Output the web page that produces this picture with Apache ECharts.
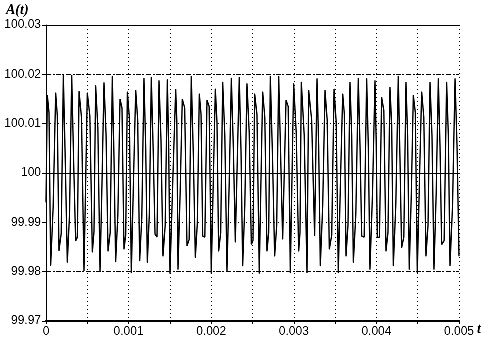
<!DOCTYPE html>
<html><head><meta charset="utf-8">
<script src="https://cdn.jsdelivr.net/npm/echarts@6/dist/echarts.min.js"></script>
<style>html,body{margin:0;padding:0;background:#fff}#c{width:485px;height:340px;filter:contrast(1.6)}</style>
</head><body><div id="c"></div>
<script>
// extremes (peaks / troughs) of the signal
const times = [0,0.0000161,0.0000565,0.000117,0.000157,0.000210,0.000258,0.000311,0.000359,0.000400,0.000460,0.000500,0.000561,0.000601,0.000654,0.000702,0.000751,0.000803,0.000843,0.000896,0.000944,0.000985,0.001033,0.001086,0.001134,0.001186,0.001227,0.001275,0.001320,0.001368,0.001416,0.001469,0.001501,0.001570,0.001598,0.001650,
0.001707,0.001759,0.001808,0.001856,0.001897,0.001949,0.002001,0.002050,0.002090,0.002139,0.002191,0.002244,0.002292,0.002340,0.002381,0.002433,0.002486,0.002526,0.002582,0.002623,0.002675,0.002716,0.002768,0.002817,0.002865,0.002906,0.002958,0.002998,0.003059,0.003091,0.003160,0.003180,0.003252,0.003281,0.003321,
0.003378,0.003430,0.003487,0.003539,0.003592,0.003632,0.003680,0.003721,0.003781,0.003822,0.003882,0.003922,0.003983,0.004011,0.004063,0.004116,0.004164,0.004205,0.004265,0.004305,0.004358,0.004398,0.004447,0.004495,0.004548,0.004600,0.004649,0.004697,0.004750,0.004790,0.004850,0.004891,0.004952,0.005];
const values = [99.9940,100.0158,99.9812,100.0163,99.9842,100.0199,99.9818,100.0199,99.9862,100.0166,99.9801,100.0163,99.9839,100.0178,99.9801,100.0184,99.9841,100.0197,99.9819,100.0150,99.9845,100.0165,99.9797,100.0168,99.9821,100.0193,99.9818,100.0195,99.9876,100.0188,99.9831,100.0190,99.9796,100.0170,99.9804,100.0150,
99.9852,100.0197,99.9828,100.0161,99.9872,100.0148,99.9796,100.0171,99.9841,100.0185,99.9801,100.0193,99.9859,100.0195,99.9811,100.0182,99.9855,100.0161,99.9796,100.0165,99.9841,100.0197,99.9831,100.0197,99.9865,100.0148,99.9797,100.0182,99.9841,100.0185,99.9797,100.0168,99.9872,100.0192,99.9811,
100.0168,99.9845,100.0171,99.9797,100.0161,99.9831,100.0185,99.9818,100.0193,99.9872,100.0192,99.9804,100.0188,99.9869,100.0154,99.9841,100.0175,99.9811,100.0197,99.9848,100.0185,99.9804,100.0158,99.9797,100.0165,99.9831,100.0185,99.9804,100.0192,99.9855,100.0185,99.9811,100.0192,99.9831];
// intermediate samples (shoulders) following each extreme
const shoulderTimes = [0.0000363,0.0000868,0.000137,0.000184,0.000234,0.000285,0.000335,0.000380,0.000430,0.000480,0.000531,0.000581,0.000628,0.000678,0.000727,0.000777,0.000823,0.000870,0.000920,0.000965,0.001009,0.001060,0.001110,0.001160,0.001207,0.001251,0.001298,0.001344,0.001392,0.001443,0.001485,0.001536,0.001584,0.001624,0.001679,
0.001733,0.001784,0.001832,0.001877,0.001923,0.001975,0.002026,0.002070,0.002115,0.002165,0.002218,0.002268,0.002316,0.002361,0.002407,0.002460,0.002506,0.002554,0.002603,0.002649,0.002696,0.002742,0.002793,0.002841,0.002886,0.002932,0.002978,0.003029,0.003075,0.003126,0.003170,0.003216,0.003267,0.003301,0.003350,
0.003404,0.003459,0.003513,0.003566,0.003612,0.003656,0.003701,0.003751,0.003802,0.003852,0.003902,0.003953,0.003997,0.004037,0.004090,0.004140,0.004185,0.004235,0.004285,0.004332,0.004378,0.004423,0.004471,0.004522,0.004574,0.004625,0.004673,0.004724,0.004770,0.004820,0.004871,0.004922,0.004976];
const shoulderValues = [100.0123,99.9932,100.0116,99.9877,100.0020,99.9917,100.0020,99.9870,100.0112,99.9980,100.0116,99.9881,100.0091,99.9980,100.0078,99.9879,100.0034,99.9915,100.0132,99.9874,100.0113,99.9990,100.0108,99.9911,100.0052,99.9917,100.0044,99.9870,100.0068,99.9894,100.0062,99.9990,100.0105,99.9960,100.0132,
99.9865,100.0034,99.9898,100.0119,99.9870,100.0135,99.9990,100.0104,99.9879,100.0076,99.9980,100.0052,99.9860,100.0044,99.9935,100.0083,99.9863,100.0119,99.9990,100.0113,99.9879,100.0034,99.9894,100.0034,99.9865,100.0135,99.9990,100.0083,99.9879,100.0076,99.9990,100.0108,99.9870,100.0056,99.9935,
100.0108,99.9874,100.0104,99.9990,100.0119,99.9894,100.0076,99.9917,100.0052,99.9870,100.0056,99.9960,100.0068,99.9870,100.0127,99.9879,100.0097,99.9935,100.0034,99.9870,100.0076,99.9960,100.0123,99.9990,100.0113,99.9894,100.0076,99.9960,100.0056,99.9863,100.0076,99.9935,100.0056];
const xTicks = [0,0.001,0.002,0.003,0.004,0.005];
const yTicks = [99.97,99.98,99.99,100,100.01,100.02,100.03];

const data = times.map((t,i)=>[t,values[i]])
  .concat(shoulderTimes.map((t,i)=>[t,shoulderValues[i]]))
  .sort((a,b)=>a[0]-b[0]);
const chart = echarts.init(document.getElementById('c'),null,{renderer:'canvas'});
const font = 'Liberation Sans, Arial, sans-serif';
const dashDot = [5,2,1,2];
chart.setOption({
  animation:false,
  backgroundColor:'#fff',
  grid:{left:46,right:26,top:25,bottom:19,containLabel:false},
  xAxis:{type:'value',min:0,max:0.005,interval:0.0005,
    axisLine:{show:true,onZero:false,lineStyle:{color:'#000',width:2}},
    axisTick:{show:true,length:3,lineStyle:{color:'#000'}},
    axisLabel:{color:'#000',fontFamily:font,fontSize:12,margin:5,
      formatter:v=>{const r=Math.round(v*10000)/10000; return xTicks.some(x=>Math.abs(x-r)<1e-9)?String(r):'';}},
    splitLine:{show:true,lineStyle:{color:'#000',type:[1,3],width:1}}},
  yAxis:{type:'value',min:99.97,max:100.03,interval:0.01,
    axisLine:{show:true,lineStyle:{color:'#000',width:1}},
    axisTick:{show:true,length:4,lineStyle:{color:'#000'}},
    axisLabel:{color:'#000',fontFamily:font,fontSize:12,margin:5,
      formatter:v=>{const r=Math.round(v*100)/100; return yTicks.some(y=>Math.abs(y-r)<1e-9)?String(r):'';}},
    splitLine:{show:true,lineStyle:{color:'#000',type:[1,3],width:1}}},
  series:[{type:'line',data:data,showSymbol:false,symbol:'none',z:5,
    lineStyle:{color:'#000',width:1.3},
    markLine:{silent:true,symbol:'none',label:{show:false},animation:false,z:3,
      data:[
        {yAxis:100,lineStyle:{color:'#000',type:'solid',width:1}},
        {yAxis:100.03,lineStyle:{color:'#000',type:'solid',width:1}},
        {yAxis:100.02,lineStyle:{color:'#000',type:dashDot,width:1}},
        {yAxis:99.98,lineStyle:{color:'#000',type:dashDot,width:1}},
        {xAxis:0.005,lineStyle:{color:'#000',type:'solid',width:1}},
        {xAxis:0.002,lineStyle:{color:'#000',type:dashDot,width:1}},
        {xAxis:0.0025,lineStyle:{color:'#000',type:dashDot,width:1}},
        {xAxis:0.0045,lineStyle:{color:'#000',type:dashDot,width:1}}
      ]}}],
  graphic:[
    {type:'text',left:6,top:3,style:{text:'A(t)',font:'italic bold 14px "Liberation Serif", serif',fill:'#000'}},
    {type:'text',left:477,top:322,style:{text:'t',font:'italic bold 14px "Liberation Serif", serif',fill:'#000'}}
  ]
});
</script></body></html>
